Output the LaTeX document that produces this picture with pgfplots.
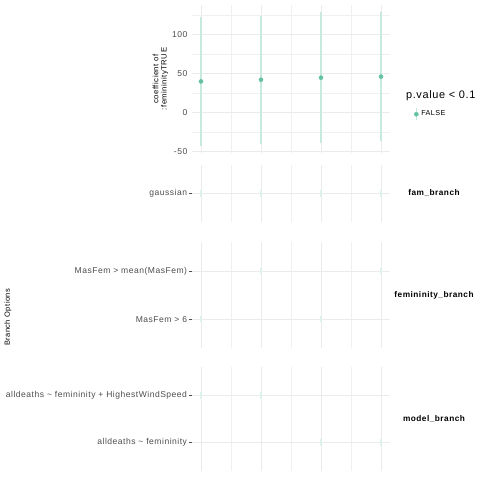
\documentclass[border=0pt]{standalone}
\usepackage{pgfplots}
\pgfplotsset{compat=1.18}
\usepackage{pgfplotstable}
\usepackage{fontspec}
\setmainfont[LetterSpace=6]{Liberation Sans}
\definecolor{teal2}{HTML}{66C2A5}
\definecolor{tickgrey}{HTML}{4D4D4D}
\definecolor{gridgrey}{HTML}{EBEBEB}

\pgfplotstableread{
x y ep em
1 40.0 82.7 83.0
2 42.2 81.8 82.2
3 44.8 83.6 83.5
4 46.1 83.1 82.7
}\coefs

\pgfplotsset{
  specpanel/.style={
    scale only axis, width=148.5pt, anchor=north west,
    xmin=0.85, xmax=4.15,
    axis line style={draw=none},
    xtick={1,2,3,4}, minor xtick={1.5,2.5,3.5}, xticklabels={},
    xmajorgrids, xminorgrids,
    major grid style={gridgrey, line width=0.6pt},
    minor grid style={gridgrey!75, line width=0.35pt},
    xtick style={draw=none}, minor tick length=0pt,
    tick align=outside, ytick pos=left,
    tick label style={font=\fontsize{6.4}{7}\selectfont, color=tickgrey},
    /pgf/number format/assume math mode=true,
    clip=false,
  },
  branchmark/.style={only marks, mark=|, mark size=2.4pt, color=teal2!22!white,
    mark options={line width=1.4pt}},
}

\begin{document}
\begin{tikzpicture}
\useasboundingbox (0pt,0pt) rectangle (360pt,-360pt);
\fill[white] (0pt,0pt) rectangle (360pt,-360pt);

% top panel: coefficients
\begin{axis}[specpanel, at={(144pt,-3.75pt)}, height=111pt,
  ymin=-51.6, ymax=137.8,
  ytick={-50,0,50,100}, minor ytick={-25,25,75,125},
  ymajorgrids, yminorgrids, ytick style={draw=none},
  yticklabel style={xshift=4.3pt},
  ylabel={coefficient of\\:femininityTRUE},
  ylabel style={align=center, font=\fontsize{5.8}{6.2}\selectfont, yshift=-4pt},
  legend style={at={(1.10,0.262)}, anchor=west, draw=none, fill=none,
    font=\fontsize{5.4}{6}\selectfont, legend cell align=left},
]
\addplot[only marks, mark=*, mark size=1.5pt, color=teal2,
  legend image code/.code={
    \draw[teal2!40!white, line width=1.1pt] (0pt,-4.5pt) -- (0pt,4.5pt);
    \fill[teal2] (0pt,0pt) circle (1.5pt);},
  error bars/.cd, y dir=both, y explicit, error mark=none,
  error bar style={teal2!36!white, line width=1.1pt}]
  table[x=x, y=y, y error plus=ep, y error minus=em] {\coefs};
\addlegendentry{FALSE}
\end{axis}

% fam_branch
\begin{axis}[specpanel, at={(144pt,-123.75pt)}, height=42.75pt,
  ymin=0.4, ymax=1.6, ytick={1}, yticklabels={gaussian},
  ymajorgrids, major tick length=2.2pt, yticklabel style={xshift=2pt},
  ytick style={draw=tickgrey, line width=0.5pt},
]
\addplot[branchmark] coordinates {(1,1) (2,1) (3,1) (4,1)};
\end{axis}

% femininity_branch
\begin{axis}[specpanel, at={(144pt,-181.5pt)}, height=79.5pt,
  ymin=0.4, ymax=2.6, ytick={1,2},
  yticklabels={MasFem > 6, MasFem > mean(MasFem)},
  ymajorgrids, major tick length=2.2pt, yticklabel style={xshift=2pt},
  ytick style={draw=tickgrey, line width=0.5pt},
]
\addplot[branchmark] coordinates {(2,2) (4,2)};
\addplot[branchmark] coordinates {(1,1) (3,1)};
\end{axis}

% model_branch
\begin{axis}[specpanel, at={(144pt,-275.25pt)}, height=78pt,
  ymin=0.4, ymax=2.6, ytick={1,2},
  yticklabels={alldeaths \textasciitilde\ femininity, alldeaths \textasciitilde\ femininity + HighestWindSpeed},
  ymajorgrids, major tick length=2.2pt, yticklabel style={xshift=2pt},
  ytick style={draw=tickgrey, line width=0.5pt},
]
\addplot[branchmark] coordinates {(1,2) (2,2)};
\addplot[branchmark] coordinates {(3,1) (4,1)};
\end{axis}

% strip labels
\node[font=\bfseries\fontsize{6.2}{7}\selectfont] at (325.5pt,-144.75pt) {fam\_branch};
\node[font=\bfseries\fontsize{6.2}{7}\selectfont] at (325.5pt,-221.25pt) {femininity\_branch};
\node[font=\bfseries\fontsize{6.2}{7}\selectfont] at (325.5pt,-314.25pt) {model\_branch};

% legend title
\node[anchor=west, font=\fontsize{8.2}{9}\selectfont] at (301pt,-71.5pt) {p.value < 0.1};

% shared y title
\node[rotate=90, font=\fontsize{5.6}{6}\selectfont] at (6pt,-238pt) {Branch Options};
\end{tikzpicture}
\end{document}
